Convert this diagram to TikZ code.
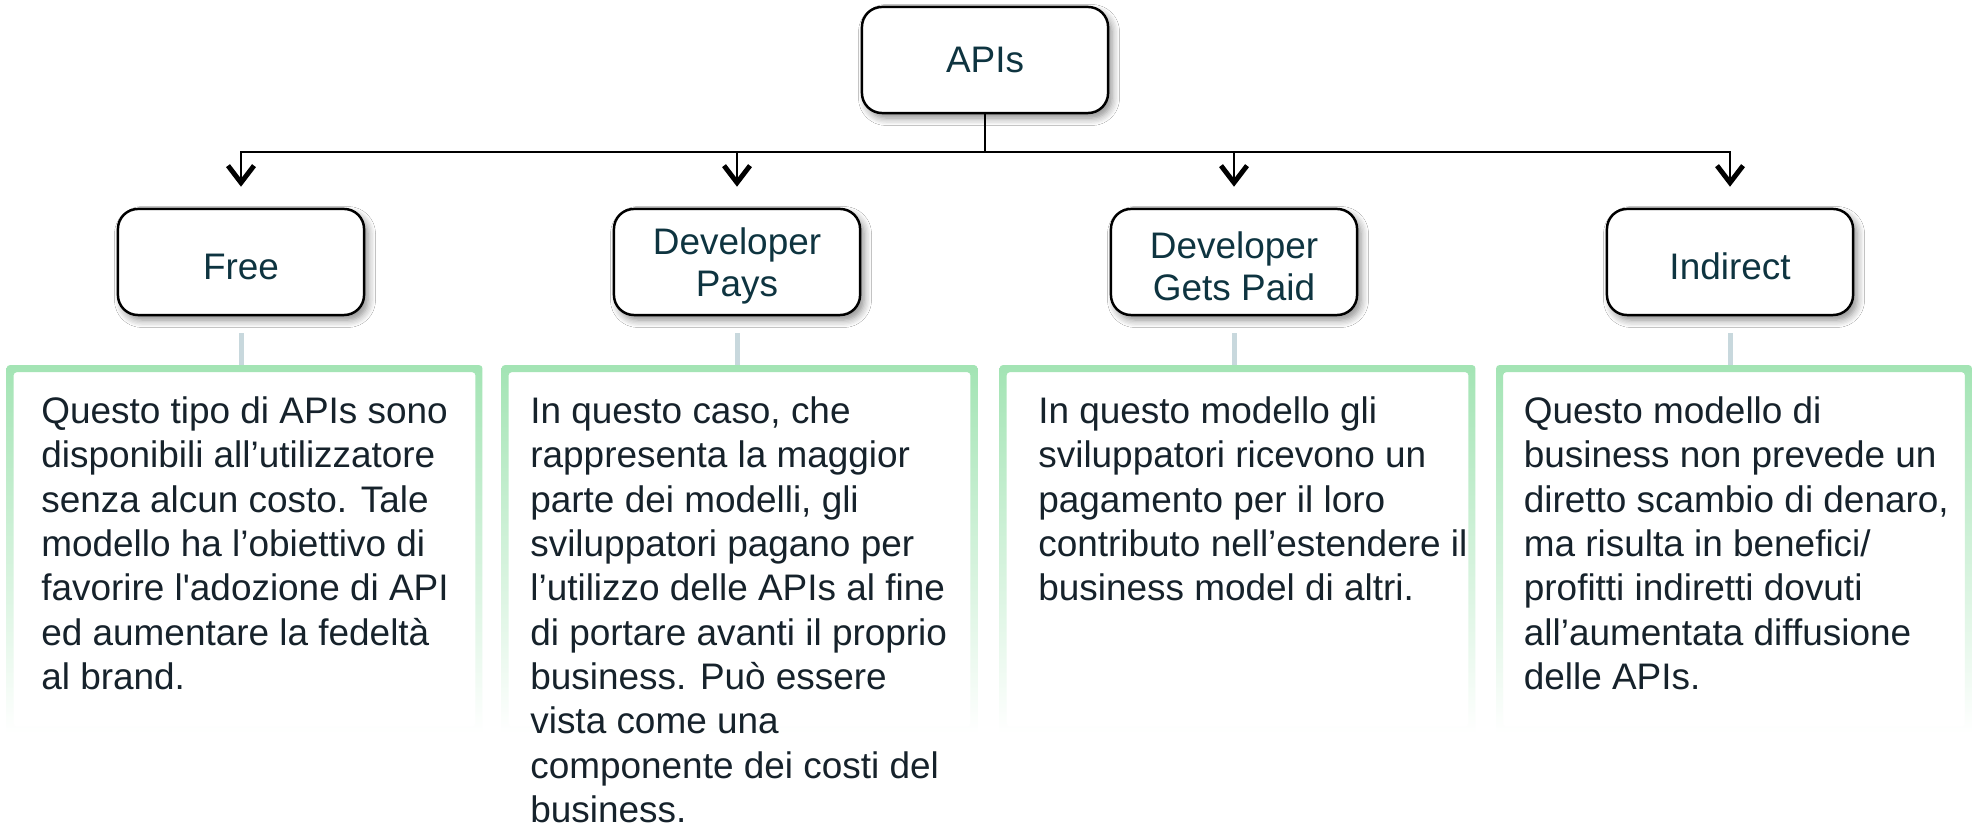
\documentclass[tikz,border=0pt]{standalone}
\usepackage{fontspec}
\setmainfont{Liberation Sans}
\usepackage{xcolor}
\usetikzlibrary{arrows.meta,shadows.blur}

\definecolor{boxtext}{HTML}{0E3440}
\definecolor{bodytext}{HTML}{16222B}
\definecolor{framegreen}{HTML}{A3E4B4}
\definecolor{stemgray}{HTML}{C8D8DD}

\newcommand{\boxstrut}{\rule{0pt}{0.35cm}}

\begin{document}
\begin{tikzpicture}[x=0.01cm,y=-0.01cm,
	catbox/.style={draw=black,line width=0.7pt,fill=white,rounded corners=0.2cm,
		minimum width=2.46cm,minimum height=1.06cm,inner sep=0pt,align=center,text=boxtext,
		font=\fontsize{10.5pt}{12pt}\selectfont,
		blur shadow={shadow xshift=0.04cm,shadow yshift=-0.05cm,shadow blur steps=6,shadow opacity=45}},
	panel/.style={minimum width=4.74cm,minimum height=3.67cm,inner sep=0pt},
	paneltext/.style={anchor=north west,inner sep=0pt,align=left,text=bodytext,
		font=\fontsize{10.5pt}{12.6pt}\selectfont},
	conn/.style={line width=0.6pt,-{Straight Barb[length=0.17cm,width=0.26cm,line width=1.4pt]},shorten >=0.21cm},
	stem/.style={stemgray,line width=0.05cm},
	panelframe/.style={top color=framegreen,bottom color=white,even odd rule}
]
	% page
	\path[use as bounding box,fill=white] (0,0) rectangle (1977,828);

	% root
	\node[catbox] (apis) at (985,60) {APIs};

	% categories
	\node[catbox] (free) at (241,262) {\boxstrut Free};
	\node[catbox] (pays) at (737,262) {\boxstrut Developer\\Pays};
	\node[catbox] (paid) at (1234,262) {\boxstrut Developer\\Gets Paid};
	\node[catbox] (indirect) at (1730,262) {\boxstrut Indirect};

	% tree connectors
	\coordinate (bus) at (985,152);
	\foreach \n in {free,pays,paid,indirect}
		\draw[conn] (apis.south) -- (bus) -| (\n.north);

	% panels
	\node[panel] (freepanel) at (244.5,549.5) {};
	\node[panel] (payspanel) at (739.5,549.5) {};
	\node[panel] (paidpanel) at (1237.5,549.5) {};
	\node[panel] (indirectpanel) at (1734,549.5) {};

	\foreach \b/\p in {free/freepanel,pays/payspanel,paid/paidpanel,indirect/indirectpanel}{
		\shade[panelframe,rounded corners=0.03cm] (\p.north west) rectangle (\p.south east)
			([shift={(7,7)}]\p.north west) rectangle ([shift={(-7,-7)}]\p.south east);
		\draw[stem] ([yshift=-0.17cm]\b.south) -- (\b.south |- \p.north);
	}

	% descriptions
	\node[paneltext] (freetext) at ([shift={(34,31)}]freepanel.north west)
		{Questo tipo di APIs sono\\disponibili all’utilizzatore\\senza alcun costo. Tale\\modello ha l’obiettivo di\\favorire l\textquotesingle adozione di API\\ed aumentare la fedeltà\\al brand.};
	\node[paneltext] (paystext) at ([shift={(28,31)}]payspanel.north west)
		{In questo caso, che\\rappresenta la maggior\\parte dei modelli, gli\\sviluppatori pagano per\\l’utilizzo delle APIs al fine\\di portare avanti il proprio\\business. Può essere\\vista come una\\componente dei costi del\\business.};
	\node[paneltext] (paidtext) at ([shift={(38,31)}]paidpanel.north west)
		{In questo modello gli\\sviluppatori ricevono un\\pagamento per il loro\\contributo nell’estendere il\\business model di altri.};
	\node[paneltext] (indirecttext) at ([shift={(27,31)}]indirectpanel.north west)
		{Questo modello di\\business non prevede un\\diretto scambio di denaro,\\ma risulta in benefici/\\profitti indiretti dovuti\\all’aumentata diffusione\\delle APIs.};

\end{tikzpicture}
\end{document}
